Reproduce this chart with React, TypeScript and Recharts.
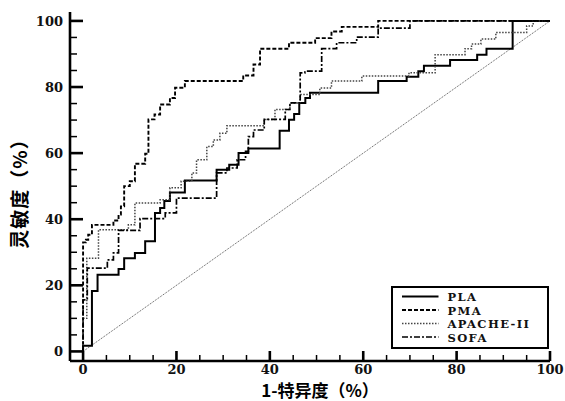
import React from 'react';
import { LineChart, Line, XAxis, YAxis, Legend } from 'recharts';

type Pt = { x: number; y: number };
const toPts = (a: number[][]): Pt[] => a.map(([x, y]) => ({ x, y }));

const plaValues: number[][] = [
  [0, 0], [0, 1.7], [1.9, 18.3], [3.1, 23.2], [7.6, 24.9], [8.8, 28.2], [11.1, 29.8],
  [13.3, 33.3], [15.4, 41.9], [16.5, 43.4], [17.4, 45.5], [18.6, 48.1], [21.8, 51.7],
  [28.6, 55], [31.3, 56.5], [33.3, 60], [35.4, 61.4], [42.1, 66.8], [44.1, 70.1],
  [45.2, 71.8], [46.3, 75.2], [47.6, 76.7], [48.6, 78.3], [63.2, 81.8], [69.3, 83.1],
  [71.8, 84.8], [73, 86.4], [78.6, 88.2], [84.4, 89.8], [86.4, 91.6], [92, 100], [100, 100],
];
const pmaValues: number[][] = [
  [0, 0], [0, 33], [0.6, 33.8], [1.1, 35.3], [1.9, 38.3], [6.5, 39.6], [7.6, 41.4],
  [8.1, 43.9], [8.8, 50], [10, 51.5], [11.1, 56.8], [13.3, 59.8], [14, 70.2], [15.3, 71.7],
  [16.5, 74.7], [18.6, 76.7], [19.7, 79.8], [21.8, 81.8], [34.3, 83.5], [36.5, 86.8],
  [37.9, 91.6], [44.1, 93.4], [49.7, 94.8], [53.2, 96.8], [55.4, 98.2], [63.2, 100], [100, 100],
];
const apacheValues: number[][] = [
  [0, 0], [0, 10], [0.8, 28.2], [3.3, 36.8], [9.7, 38.3], [11.1, 44.9], [16.5, 45.9],
  [18.6, 49.5], [21, 51.5], [23.3, 54], [24.3, 58], [26.5, 62], [27.9, 64], [29.3, 66],
  [30.8, 68.3], [38.8, 70.2], [41.1, 73.2], [44.3, 75.2], [46.5, 77.7], [50.7, 79.7],
  [53.2, 81.8], [59.7, 83.3], [69.8, 84.3], [75.4, 89.8], [81.8, 91.6], [83.2, 93],
  [85.2, 94.5], [88.4, 96.5], [95, 98.5], [96.4, 100], [100, 100],
];
const sofaValues: number[][] = [
  [0, 0], [0, 15.6], [0.9, 25.2], [5.2, 27.7], [6.5, 29.8], [7.6, 36.6], [12.2, 40.2],
  [17.6, 41.9], [20, 46.4], [28.6, 54], [30.8, 55.5], [33, 58], [34.8, 60.5], [35.4, 65],
  [36.5, 67], [38.8, 70.2], [43.3, 73.2], [44.3, 75.2], [46.5, 84.3], [47.5, 84.8],
  [51.1, 91.6], [54.3, 93.4], [58.6, 95.1], [63.2, 97.8], [70, 100], [100, 100],
];
const diagonalValues: number[][] = [[0, 0], [100, 100]];

const axisTicks = [0, 5, 10, 15, 20, 25, 30, 35, 40, 45, 50, 55, 60, 65, 70, 75, 80, 85, 90, 95, 100];
const seriesNames = ['PLA', 'PMA', 'APACHE-II', 'SOFA'];

const pla = toPts(plaValues);
const pma = toPts(pmaValues);
const apache = toPts(apacheValues);
const sofa = toPts(sofaValues);
const diagonal = toPts(diagonalValues);

const NUM_FONT = '"DejaVu Serif", serif';
const CJK_FONT = '"Noto Sans CJK SC", sans-serif';

const styles = [
  { stroke: '#000', width: 2, dash: undefined as string | undefined },
  { stroke: '#000', width: 1.9, dash: '4 2' },
  { stroke: '#444', width: 1.5, dash: '1.5 1.5' },
  { stroke: '#000', width: 1.7, dash: '6 2 2 2' },
];

const XTick = (props: any) => {
  const { x, y, payload } = props;
  const v = payload.value;
  const major = v % 20 === 0;
  return (
    <g>
      <line x1={x} x2={x} y1={y} y2={y - (major ? 10 : 6)} stroke="#000" strokeWidth={major ? 2.6 : 1.5} />
      {major && (
        <text x={x} y={y + 13} textAnchor="middle" fontFamily={NUM_FONT} fontSize={13} fontWeight="bold" fill="#111">
          {v}
        </text>
      )}
    </g>
  );
};

const YTick = (props: any) => {
  const { x, y, payload } = props;
  const v = payload.value;
  const major = v % 20 === 0;
  return (
    <g>
      <line x1={x} x2={x + (major ? 13 : 7)} y1={y} y2={y} stroke="#000" strokeWidth={major ? 2.6 : 1.5} />
      {major && (
        <text x={x - 7} y={y + 5} textAnchor="end" fontFamily={NUM_FONT} fontSize={13} fontWeight="bold" fill="#111">
          {v}
        </text>
      )}
    </g>
  );
};

const LegendBox = () => (
  <svg width={159} height={64} style={{ display: 'block' }}>
    <rect x={1} y={1} width={156} height={61} fill="#fff" stroke="#000" strokeWidth={2} />
    {seriesNames.map((n, i) => {
      const cy = 10.5 + i * 13.5;
      const s = styles[i];
      return (
        <g key={n}>
          <line x1={11} x2={47.5} y1={cy} y2={cy} stroke={s.stroke} strokeWidth={s.width} strokeDasharray={s.dash} />
          <text x={56.5} y={cy + 4.5} fontFamily={NUM_FONT} fontSize={11.5} fontWeight="bold" letterSpacing={1.4} fill="#111">
            {n}
          </text>
        </g>
      );
    })}
  </svg>
);

export default function App() {
  const seriesData = [pla, pma, apache, sofa];
  return (
    <div style={{ position: 'absolute', left: 0, top: 0, background: '#fff' }}>
      <LineChart width={565} height={401} margin={{ top: 12, right: 15, left: 0, bottom: 0 }}>
        <XAxis
          dataKey="x"
          type="number"
          domain={[-2.8, 100]}
          allowDataOverflow
          ticks={axisTicks}
          interval={0}
          tickLine={false}
          tickSize={0}
          tickMargin={0}
          axisLine={{ stroke: '#000', strokeWidth: 2.6 }}
          tick={<XTick />}
          height={40}
          label={{
            content: () => (
              <text x={320} y={397} textAnchor="middle" fontFamily={CJK_FONT} fontSize={17} fontWeight={600} fill="#000">
                1-特异度（%）
              </text>
            ),
          }}
        />
        <YAxis
          type="number"
          domain={[-2.9, 102.7]}
          allowDataOverflow
          ticks={axisTicks}
          interval={0}
          tickLine={false}
          tickSize={0}
          tickMargin={0}
          axisLine={{ stroke: '#000', strokeWidth: 2.6 }}
          tick={<YTick />}
          width={70}
          label={{
            content: () => (
              <text
                x={18}
                y={189}
                textAnchor="middle"
                dominantBaseline="central"
                transform="rotate(-90 18 189)"
                fontFamily={CJK_FONT}
                fontSize={19}
                fontWeight={600}
                letterSpacing={1}
                fill="#000"
              >
                灵敏度（%）
              </text>
            ),
          }}
        />
        <Line
          data={diagonal}
          dataKey="y"
          type="linear"
          stroke="#555"
          strokeWidth={1}
          strokeDasharray="1 1"
          dot={false}
          isAnimationActive={false}
          legendType="none"
        />
        {seriesData.map((d, i) => (
          <Line
            key={seriesNames[i]}
            data={d}
            dataKey="y"
            name={seriesNames[i]}
            type="stepAfter"
            stroke={styles[i].stroke}
            strokeWidth={styles[i].width}
            strokeDasharray={styles[i].dash}
            dot={false}
            isAnimationActive={false}
          />
        ))}
        <Legend
          layout="horizontal"
          verticalAlign="middle"
          align="center"
          wrapperStyle={{ left: 391, top: 286, width: 159, height: 64 }}
          content={() => <LegendBox />}
        />
      </LineChart>
    </div>
  );
}
